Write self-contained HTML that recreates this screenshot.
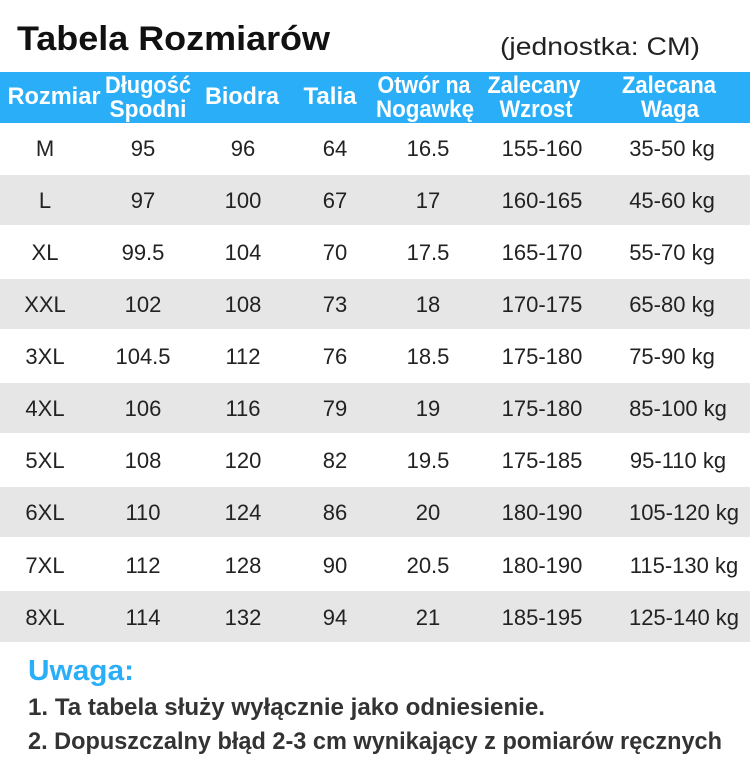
<!DOCTYPE html>
<html><head><meta charset="utf-8"><style>
html,body{margin:0;padding:0;background:#fff}
svg{display:block}
</style></head><body>
<svg width="750" height="771" xmlns="http://www.w3.org/2000/svg" font-family="Liberation Sans, sans-serif">
<rect width="750" height="771" fill="#fff"/>
<text x="17" y="50" font-size="34" font-weight="bold" fill="#111" textLength="313" lengthAdjust="spacingAndGlyphs">Tabela Rozmiarów</text>
<text x="500" y="55" font-size="25" fill="#222" textLength="200" lengthAdjust="spacingAndGlyphs">(jednostka: CM)</text>
<rect x="0" y="72" width="750" height="51" fill="#2aaef8"/>
<g fill="#fff" font-weight="bold" font-size="24" text-anchor="middle">
<text x="54" y="104" textLength="93" lengthAdjust="spacingAndGlyphs">Rozmiar</text>
<text x="148" y="93" textLength="86" lengthAdjust="spacingAndGlyphs">Długość</text>
<text x="148" y="117" textLength="77" lengthAdjust="spacingAndGlyphs">Spodni</text>
<text x="242" y="104" textLength="74" lengthAdjust="spacingAndGlyphs">Biodra</text>
<text x="330" y="104" textLength="53" lengthAdjust="spacingAndGlyphs">Talia</text>
<text x="424" y="93" textLength="93" lengthAdjust="spacingAndGlyphs">Otwór na</text>
<text x="425" y="117" textLength="98" lengthAdjust="spacingAndGlyphs">Nogawkę</text>
<text x="534" y="93" textLength="93" lengthAdjust="spacingAndGlyphs">Zalecany</text>
<text x="536" y="117" textLength="73" lengthAdjust="spacingAndGlyphs">Wzrost</text>
<text x="669" y="93" textLength="94" lengthAdjust="spacingAndGlyphs">Zalecana</text>
<text x="670" y="117" textLength="58" lengthAdjust="spacingAndGlyphs">Waga</text>
</g>
<g fill="#e6e6e6">
<rect x="0" y="175" width="750" height="50"/>
<rect x="0" y="279" width="750" height="50"/>
<rect x="0" y="383" width="750" height="50"/>
<rect x="0" y="487" width="750" height="50"/>
<rect x="0" y="591" width="750" height="51"/>
</g>
<g fill="#222" font-size="22" text-anchor="middle">
<g transform="translate(0,156)"><text x="45">M</text><text x="143">95</text><text x="243">96</text><text x="335">64</text><text x="428">16.5</text><text x="542">155-160</text><text x="672">35-50 kg</text></g>
<g transform="translate(0,208)"><text x="45">L</text><text x="143">97</text><text x="243">100</text><text x="335">67</text><text x="428">17</text><text x="542">160-165</text><text x="672">45-60 kg</text></g>
<g transform="translate(0,260)"><text x="45">XL</text><text x="143">99.5</text><text x="243">104</text><text x="335">70</text><text x="428">17.5</text><text x="542">165-170</text><text x="672">55-70 kg</text></g>
<g transform="translate(0,312)"><text x="45">XXL</text><text x="143">102</text><text x="243">108</text><text x="335">73</text><text x="428">18</text><text x="542">170-175</text><text x="672">65-80 kg</text></g>
<g transform="translate(0,364)"><text x="45">3XL</text><text x="143">104.5</text><text x="243">112</text><text x="335">76</text><text x="428">18.5</text><text x="542">175-180</text><text x="672">75-90 kg</text></g>
<g transform="translate(0,416)"><text x="45">4XL</text><text x="143">106</text><text x="243">116</text><text x="335">79</text><text x="428">19</text><text x="542">175-180</text><text x="678">85-100 kg</text></g>
<g transform="translate(0,468)"><text x="45">5XL</text><text x="143">108</text><text x="243">120</text><text x="335">82</text><text x="428">19.5</text><text x="542">175-185</text><text x="678">95-110 kg</text></g>
<g transform="translate(0,520)"><text x="45">6XL</text><text x="143">110</text><text x="243">124</text><text x="335">86</text><text x="428">20</text><text x="542">180-190</text><text x="684">105-120 kg</text></g>
<g transform="translate(0,573)"><text x="45">7XL</text><text x="143">112</text><text x="243">128</text><text x="335">90</text><text x="428">20.5</text><text x="542">180-190</text><text x="684">115-130 kg</text></g>
<g transform="translate(0,625)"><text x="45">8XL</text><text x="143">114</text><text x="243">132</text><text x="335">94</text><text x="428">21</text><text x="542">185-195</text><text x="684">125-140 kg</text></g>
</g>
<text x="28" y="680" font-size="29" font-weight="bold" fill="#2aaef8" textLength="106" lengthAdjust="spacingAndGlyphs">Uwaga:</text>
<text x="28" y="715" font-size="24" font-weight="bold" fill="#333" textLength="517" lengthAdjust="spacingAndGlyphs">1. Ta tabela służy wyłącznie jako odniesienie.</text>
<text x="28" y="749" font-size="24" font-weight="bold" fill="#333" textLength="694" lengthAdjust="spacingAndGlyphs">2. Dopuszczalny błąd 2-3 cm wynikający z pomiarów ręcznych</text>
</svg>
</body></html>
